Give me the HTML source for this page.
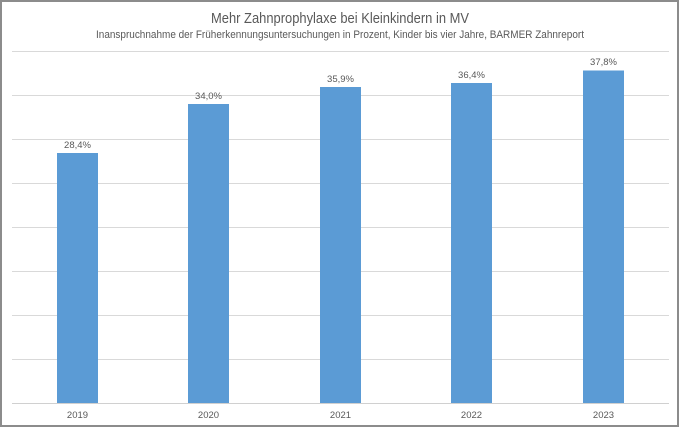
<!DOCTYPE html>
<html><head><meta charset="utf-8"><style>
html,body{margin:0;padding:0;background:#fff;}
svg{display:block;font-family:"Liberation Sans",sans-serif;}
</style></head><body>
<svg width="680" height="427" viewBox="0 0 680 427" xmlns="http://www.w3.org/2000/svg">
<rect x="0" y="0" width="680" height="427" fill="#fff"/>
<rect x="1" y="1" width="677" height="425" fill="none" stroke="#8c8c8c" stroke-width="2"/>
<text x="340" y="23" text-anchor="middle" font-size="15" fill="#595959" textLength="258" lengthAdjust="spacingAndGlyphs">Mehr Zahnprophylaxe bei Kleinkindern in MV</text>
<text x="340" y="38" text-anchor="middle" font-size="11" fill="#595959" textLength="488" lengthAdjust="spacingAndGlyphs">Inanspruchnahme der Früherkennungsuntersuchungen in Prozent, Kinder bis vier Jahre, BARMER Zahnreport</text>
<g stroke="#d9d9d9" stroke-width="1">
<line x1="12" x2="669" y1="51.5" y2="51.5"/>
<line x1="12" x2="669" y1="95.5" y2="95.5"/>
<line x1="12" x2="669" y1="139.5" y2="139.5"/>
<line x1="12" x2="669" y1="183.5" y2="183.5"/>
<line x1="12" x2="669" y1="227.5" y2="227.5"/>
<line x1="12" x2="669" y1="271.5" y2="271.5"/>
<line x1="12" x2="669" y1="315.5" y2="315.5"/>
<line x1="12" x2="669" y1="359.5" y2="359.5"/>
</g>
<g fill="#5b9bd5">
<rect x="57" y="153" width="41" height="250"/>
<rect x="188" y="104" width="41" height="299"/>
<rect x="320" y="87" width="41" height="316"/>
<rect x="451" y="83" width="41" height="320"/>
<rect x="583" y="70.5" width="41" height="332.5"/>
</g>
<line x1="12" x2="669" y1="403.5" y2="403.5" stroke="#d0d0d0" stroke-width="1"/>
<g font-size="9.5" fill="#595959" text-anchor="middle">
<text x="77.5" y="148">28,4%</text>
<text x="208.5" y="99">34,0%</text>
<text x="340.5" y="82">35,9%</text>
<text x="471.5" y="78">36,4%</text>
<text x="603.5" y="65">37,8%</text>
<text x="77.5" y="418">2019</text>
<text x="208.5" y="418">2020</text>
<text x="340.5" y="418">2021</text>
<text x="471.5" y="418">2022</text>
<text x="603.5" y="418">2023</text>
</g>
</svg>
</body></html>
